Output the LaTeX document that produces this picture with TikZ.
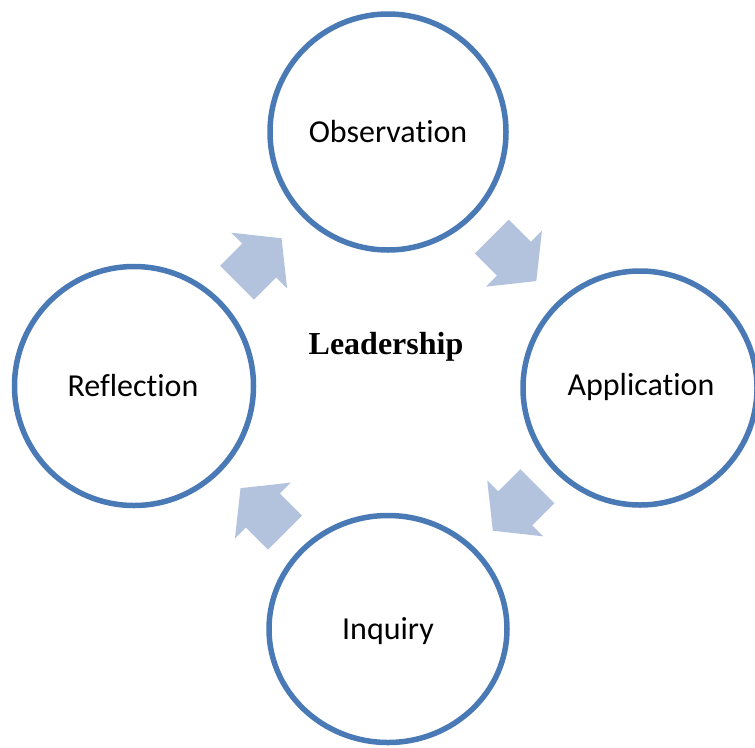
\documentclass[tikz,border=0pt]{standalone}
\usepackage{fontspec}
\setmainfont[Ligatures=NoCommon]{Carlito}
\newfontfamily\timesbf{Liberation Serif}
\definecolor{ringblue}{HTML}{4A7AB6}
\definecolor{arrowfill}{HTML}{B3C3DE}
\tikzset{
  ring/.style={draw=ringblue, line width=5.5pt, fill=white},
  lbl/.style={font=\fontsize{32}{36}\selectfont, text=black},
  blockarrow/.style={fill=arrowfill, draw=none}
}
\newcommand{\cyclearrow}[3]{%
  \begin{scope}[shift={(#1,#2)}, rotate=#3]
    \fill[blockarrow] (-31.3,-24) -- (0,-24) -- (0,-39.5) -- (31.6,0) -- (0,39.5) -- (0,24) -- (-31.3,24) -- cycle;
  \end{scope}}
\begin{document}
\begin{tikzpicture}[x=1pt,y=-1pt]
  \useasboundingbox (0,0) rectangle (755,747);
  \clip (0,0) rectangle (755,747);
  % circles
  \draw[ring] (388,132) circle [radius=118];
  \draw[ring] (134,386) circle [radius=119.5];
  \draw[ring] (640,388) circle [radius=117];
  \draw[ring] (388,629) ellipse [x radius=119, y radius=113.5];
  % labels
  \node[lbl] (obs) at (388,132) {Observation};
  \node[lbl] (app) at (641,387) {Application};
  \node[lbl] (ref) at (133,386) {Reflection};
  \node[lbl] (inq) at (388,631) {Inquiry};
  \node[font=\timesbf\bfseries\fontsize{32}{36}\selectfont] (lead) at (386,347) {Leadership};
  % arrows
  \cyclearrow{259.2}{260.6}{45}
  \cyclearrow{514}{258.7}{-45}
  \cyclearrow{515.2}{508.4}{-135}
  \cyclearrow{262.9}{510.5}{135}
\end{tikzpicture}
\end{document}
